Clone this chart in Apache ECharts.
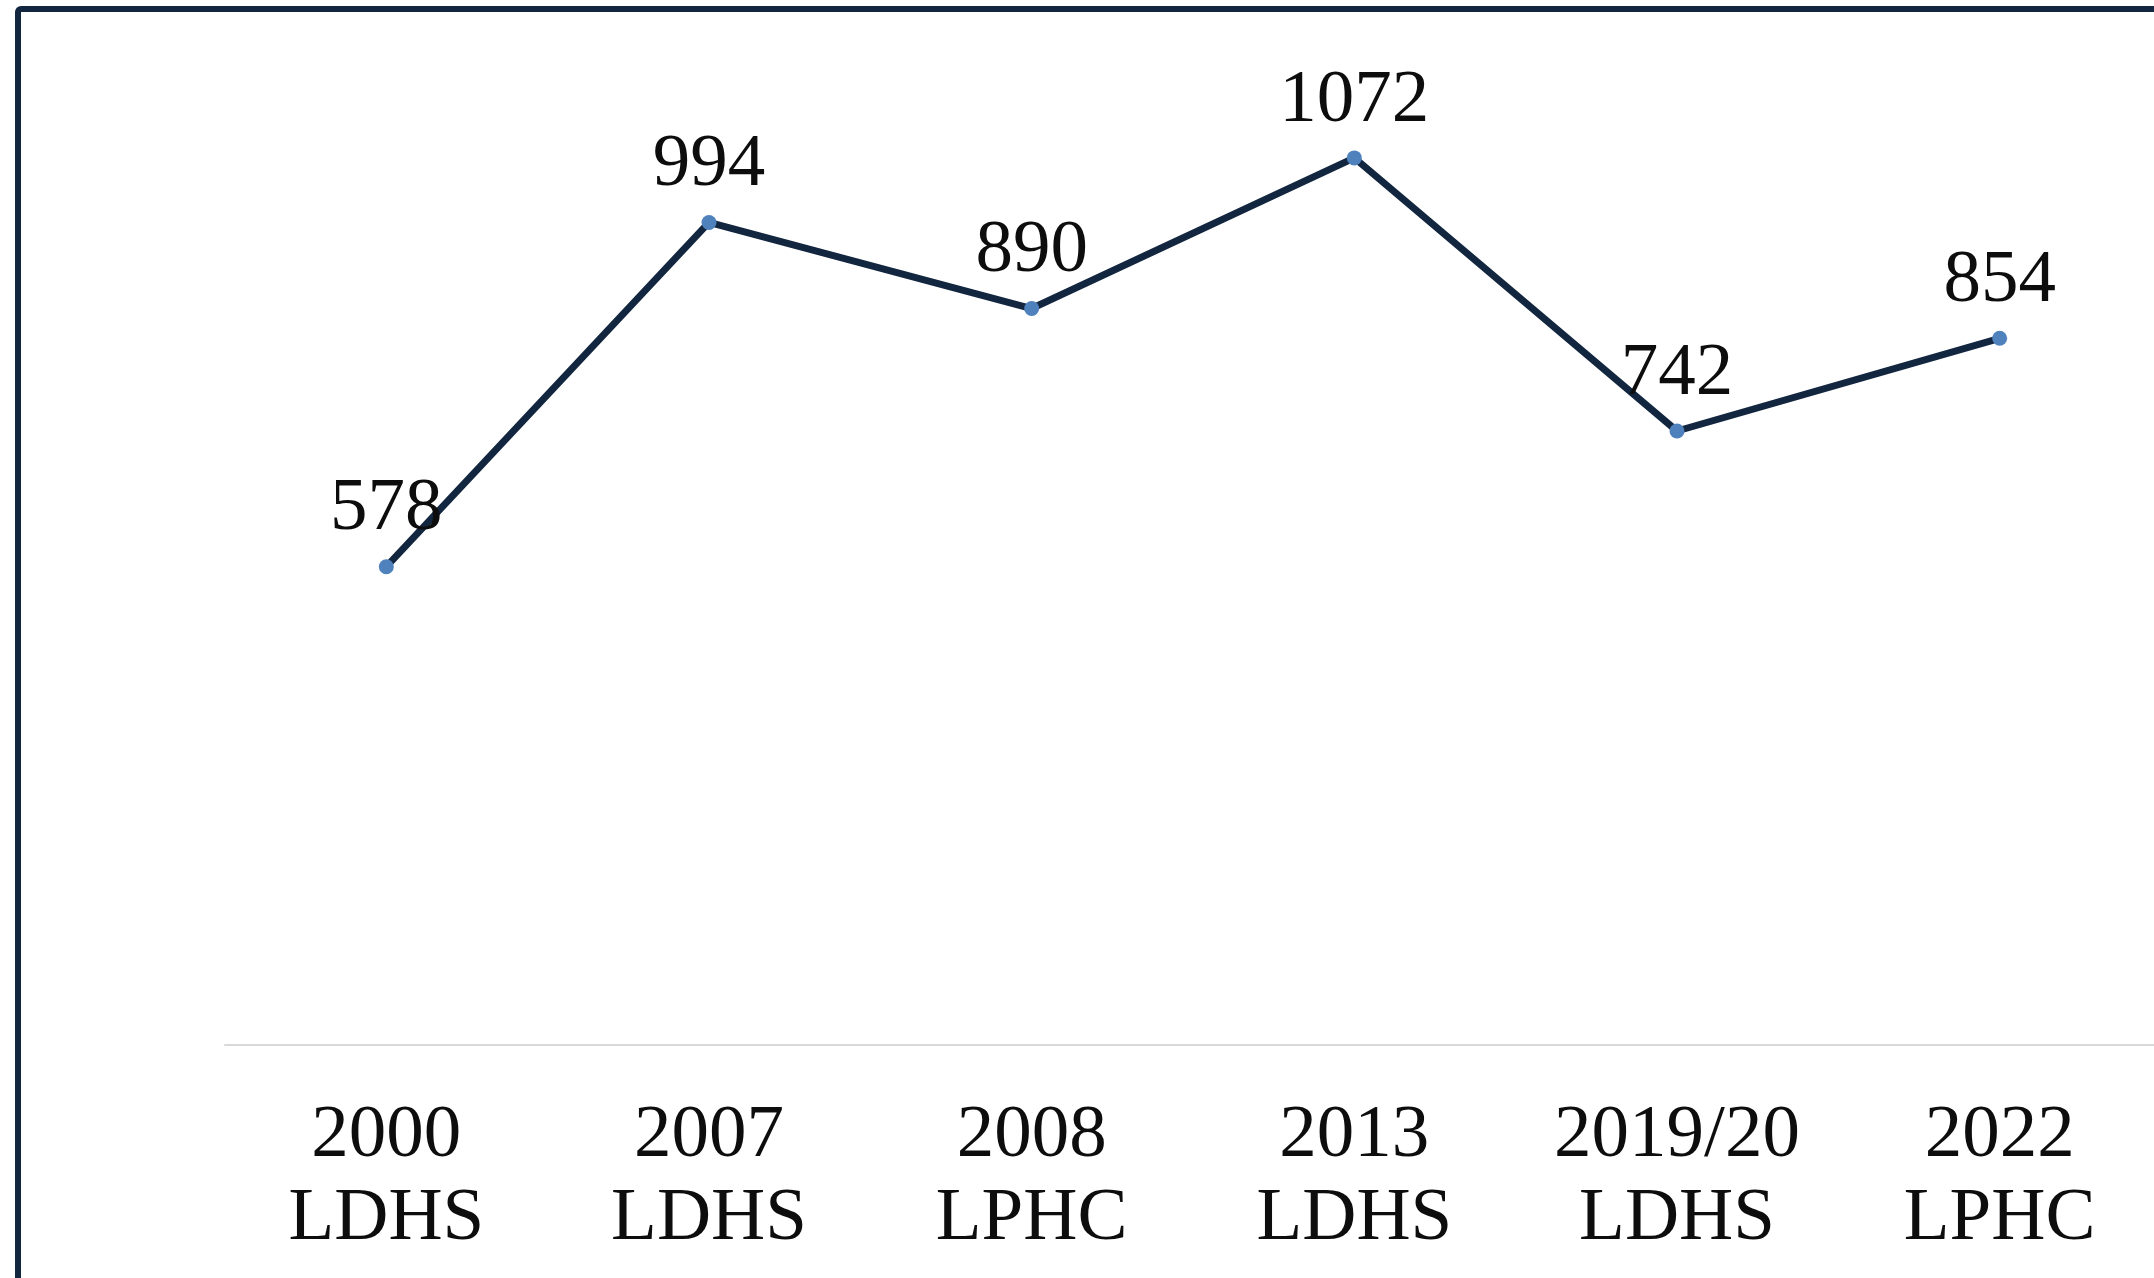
<!DOCTYPE html>
<html>
<head>
<meta charset="utf-8">
<script src="https://cdn.jsdelivr.net/npm/echarts@6/dist/echarts.min.js"></script>
<style>
html,body{margin:0;padding:0;background:#fff;}
#chart{width:2154px;height:1278px;}
</style>
</head>
<body>
<div id="chart"></div>
<script>
var categories = ['2000\nLDHS', '2007\nLDHS', '2008\nLPHC', '2013\nLDHS', '2019/20\nLDHS', '2022\nLPHC'];
var values = [578, 994, 890, 1072, 742, 854];

var chart = echarts.init(document.getElementById('chart'), null, {renderer: 'canvas'});
var FONT = '"Liberation Serif", "Times New Roman", serif';
chart.setOption({
  backgroundColor: '#ffffff',
  animation: false,
  grid: {left: 225, right: -7, top: 52, bottom: 233, containLabel: false, outerBoundsMode: 'none'},
  xAxis: {
    type: 'category',
    data: categories,
    boundaryGap: true,
    axisLine: {show: true, lineStyle: {color: '#d9d9d9', width: 2}},
    axisTick: {show: false},
    axisLabel: {
      interval: 0,
      margin: 50,
      fontFamily: FONT,
      fontSize: 75,
      lineHeight: 83,
      color: '#0d0d0d',
      align: 'center'
    },
    splitLine: {show: false}
  },
  yAxis: {
    type: 'value',
    min: 0,
    max: 1200,
    interval: 200,
    show: false,
    splitLine: {show: false}
  },
  series: [{
    type: 'line',
    data: values,
    symbol: 'circle',
    symbolSize: 15,
    lineStyle: {color: '#12263f', width: 7},
    itemStyle: {color: '#4f81bd', borderWidth: 0},
    label: {
      show: true,
      position: 'top',
      distance: 12,
      fontFamily: FONT,
      fontSize: 75,
      lineHeight: 75,
      color: '#0d0d0d'
    },
    z: 3
  }],
  graphic: [{
    type: 'rect',
    shape: {x: 18, y: 9, width: 2300, height: 1400, r: 3},
    style: {fill: 'none', stroke: '#12263f', lineWidth: 6},
    silent: true,
    z: 10
  }]
});
</script>
</body>
</html>
